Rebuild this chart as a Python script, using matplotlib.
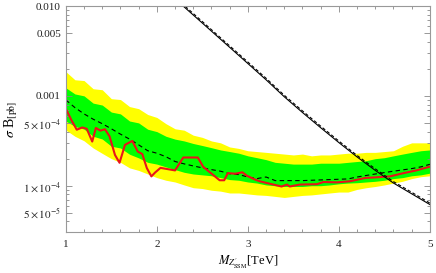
import matplotlib
matplotlib.use("Agg")
import matplotlib.pyplot as plt
from matplotlib.ticker import FixedLocator, NullFormatter, LogLocator

# ---- data (pb) ----
mass_grid = [1.0, 1.1, 1.2, 1.3, 1.4, 1.5, 1.6, 1.7, 1.8, 1.9, 2.0,
             2.1, 2.2, 2.3, 2.4, 2.5, 2.6, 2.7, 2.8, 2.9, 3.0,
             3.1, 3.2, 3.3, 3.4, 3.5, 3.6, 3.7, 3.8, 3.9, 4.0,
             4.1, 4.2, 4.3, 4.4, 4.5, 4.6, 4.7, 4.8, 4.9, 5.0]

yellow_hi = [1.86e-3, 1.51e-3, 1.48e-3, 1.20e-3, 1.17e-3, 9.3e-4, 9.1e-4, 7.6e-4, 7.2e-4, 6.2e-4, 5.75e-4,
             4.9e-4, 4.3e-4, 4.15e-4, 3.65e-4, 3.45e-4, 3.15e-4, 3.0e-4, 2.7e-4, 2.6e-4, 2.45e-4,
             2.4e-4, 2.35e-4, 2.3e-4, 2.25e-4, 2.2e-4, 2.25e-4, 2.15e-4, 2.2e-4, 2.2e-4, 2.25e-4,
             2.3e-4, 2.3e-4, 2.35e-4, 2.35e-4, 2.4e-4, 2.45e-4, 2.75e-4, 3.0e-4, 3.0e-4, 3.0e-4]

green_hi = [1.23e-3, 1.05e-3, 1.0e-3, 8.3e-4, 7.9e-4, 6.6e-4, 6.3e-4, 5.25e-4, 5.0e-4, 4.25e-4, 4.0e-4,
            3.55e-4, 3.3e-4, 3.15e-4, 2.95e-4, 2.8e-4, 2.65e-4, 2.5e-4, 2.4e-4, 2.3e-4, 2.15e-4,
            2.05e-4, 1.95e-4, 1.82e-4, 1.78e-4, 1.74e-4, 1.74e-4, 1.74e-4, 1.78e-4, 1.78e-4, 1.78e-4,
            1.82e-4, 1.86e-4, 1.9e-4, 2.0e-4, 2.05e-4, 2.15e-4, 2.25e-4, 2.35e-4, 2.45e-4, 2.5e-4]

expected = [9.0e-4, 7.4e-4, 6.3e-4, 5.5e-4, 4.9e-4, 4.3e-4, 3.75e-4, 3.3e-4, 2.85e-4, 2.45e-4, 2.3e-4,
            2.1e-4, 1.86e-4, 1.75e-4, 1.66e-4, 1.58e-4, 1.51e-4, 1.45e-4, 1.36e-4, 1.33e-4, 1.25e-4,
            1.2e-4, 1.25e-4, 1.14e-4, 1.14e-4, 1.14e-4, 1.14e-4, 1.15e-4, 1.16e-4, 1.17e-4, 1.18e-4,
            1.19e-4, 1.25e-4, 1.3e-4, 1.35e-4, 1.4e-4, 1.45e-4, 1.5e-4, 1.55e-4, 1.62e-4, 1.73e-4]

green_lo = [5.25e-4, 4.57e-4, 4.27e-4, 3.55e-4, 3.31e-4, 2.75e-4, 2.63e-4, 2.24e-4, 2.04e-4, 1.82e-4, 1.74e-4,
            1.62e-4, 1.51e-4, 1.41e-4, 1.35e-4, 1.32e-4, 1.29e-4, 1.23e-4, 1.17e-4, 1.15e-4, 1.10e-4,
            1.07e-4, 1.02e-4, 1.0e-4, 9.8e-5, 9.8e-5, 9.8e-5, 1.0e-4, 1.0e-4, 1.02e-4, 1.05e-4,
            1.07e-4, 1.08e-4, 1.10e-4, 1.12e-4, 1.15e-4, 1.2e-4, 1.23e-4, 1.29e-4, 1.32e-4, 1.38e-4]

yellow_lo = [4.17e-4, 3.55e-4, 3.16e-4, 2.63e-4, 2.29e-4, 2.0e-4, 1.82e-4, 1.58e-4, 1.48e-4, 1.35e-4, 1.23e-4,
             1.15e-4, 1.10e-4, 1.02e-4, 9.5e-5, 9.3e-5, 8.9e-5, 8.7e-5, 8.3e-5, 8.3e-5, 8.1e-5,
             7.9e-5, 7.8e-5, 7.6e-5, 7.4e-5, 7.6e-5, 7.8e-5, 7.9e-5, 8.1e-5, 8.3e-5, 8.5e-5,
             8.5e-5, 9.1e-5, 9.5e-5, 9.8e-5, 1.02e-4, 1.07e-4, 1.12e-4, 1.2e-4, 1.26e-4, 1.29e-4]

obs_mass = [1.00, 1.06, 1.12, 1.18, 1.23, 1.29, 1.33, 1.38, 1.43, 1.48, 1.54, 1.59, 1.65, 1.73,
            1.79, 1.84, 1.89, 1.94, 1.98, 2.04, 2.20, 2.29, 2.45, 2.51, 2.69, 2.74, 2.78, 2.86,
            2.94, 2.99, 3.08, 3.13, 3.28, 3.37, 3.43, 3.46, 3.57, 3.76, 3.83, 3.98, 4.12, 4.29,
            4.41, 4.56, 4.71, 4.85, 5.00]
observed = [7.2e-4, 5.4e-4, 4.2e-4, 4.45e-4, 4.3e-4, 3.1e-4, 4.4e-4, 4.1e-4, 4.25e-4, 3.55e-4, 2.2e-4,
            1.8e-4, 2.85e-4, 3.15e-4, 2.4e-4, 2.25e-4, 1.57e-4, 1.27e-4, 1.4e-4, 1.58e-4, 1.48e-4,
            2.06e-4, 2.06e-4, 1.62e-4, 1.15e-4, 1.15e-4, 1.38e-4, 1.36e-4, 1.41e-4, 1.29e-4, 1.17e-4,
            1.12e-4, 1.03e-4, 9.8e-5, 1.03e-4, 9.8e-5, 1.03e-4, 1.04e-4, 1.10e-4, 1.09e-4, 1.12e-4,
            1.22e-4, 1.24e-4, 1.27e-4, 1.38e-4, 1.48e-4, 1.63e-4]

theory_mass = [2.2, 2.4, 2.6, 2.8, 3.0, 3.2, 3.4, 3.6, 3.8, 4.0, 4.2, 4.4, 4.6, 4.8, 5.0]
theory = [1.20e-2, 7.94e-3, 5.25e-3, 3.47e-3, 2.29e-3, 1.51e-3, 9.77e-4, 6.53e-4, 4.42e-4,
          3.02e-4, 2.09e-4, 1.48e-4, 1.07e-4, 8.13e-5, 6.17e-5]
theory_alt = [1.25e-2, 8.25e-3, 5.45e-3, 3.6e-3, 2.38e-3, 1.57e-3, 1.015e-3, 6.8e-4, 4.6e-4,
              3.14e-4, 2.17e-4, 1.54e-4, 1.11e-4, 8.45e-5, 6.4e-5]

ytick_vals = [5e-5, 1e-4, 5e-4, 1e-3, 5e-3, 1e-2]
ytick_labels = [r'$5\times10^{-5}$', r'$1\times10^{-4}$', r'$5\times10^{-4}$', '0.001', '0.005', '0.010']
xtick_vals = [1, 2, 3, 4, 5]

# ---- plot ----
plt.rcParams['font.family'] = ['Liberation Serif', 'DejaVu Serif']
plt.rcParams['mathtext.fontset'] = 'stix'

fig = plt.figure(figsize=(4.36, 2.73), dpi=100)
ax = fig.add_axes([0.151, 0.150, 0.835, 0.828])

ax.fill_between(mass_grid, yellow_lo, yellow_hi, color='#FFFF00', lw=0)
ax.fill_between(mass_grid, green_lo, green_hi, color='#00FF00', lw=0)
ax.plot(mass_grid, expected, color='black', lw=0.8, ls=(0, (4, 3)))
ax.plot(obs_mass, observed, color='#E8141A', lw=1.5)
ax.plot(theory_mass, theory, color='black', lw=0.8)
ax.plot(theory_mass, theory_alt, color='black', lw=0.8, ls=(0, (3, 2)))

ax.set_yscale('log')
ax.set_xlim(1, 5)
ax.set_ylim(3.05e-5, 1e-2)

ax.xaxis.set_major_locator(FixedLocator(xtick_vals))
ax.set_xticklabels([str(v) for v in xtick_vals])
ax.xaxis.set_minor_locator(FixedLocator([1 + 0.2 * i for i in range(21)]))
ax.yaxis.set_major_locator(FixedLocator(ytick_vals))
ax.set_yticklabels(ytick_labels)
ax.yaxis.set_minor_locator(LogLocator(base=10, subs=[1, 2, 3, 4, 5, 6, 7, 8, 9], numticks=20))
ax.yaxis.set_minor_formatter(NullFormatter())

for s in ax.spines.values():
    s.set_color('#999999')
    s.set_linewidth(0.8)
ax.tick_params(which='both', direction='in', top=True, right=True, color='#888888',
               labelsize=8, labelcolor='#222222', width=0.6)
ax.tick_params(which='major', length=4)
ax.tick_params(which='minor', length=2)
ax.tick_params(axis='x', pad=6)

ax.set_ylabel(r'$\sigma$ B$_{[\rm pb]}$', fontsize=10, labelpad=2)
ax.set_xlabel(r'$M_{Z^{\prime}_{\rm SSM}}$[TeV]', fontsize=9, labelpad=3)

fig.savefig('out.png', dpi=100)
